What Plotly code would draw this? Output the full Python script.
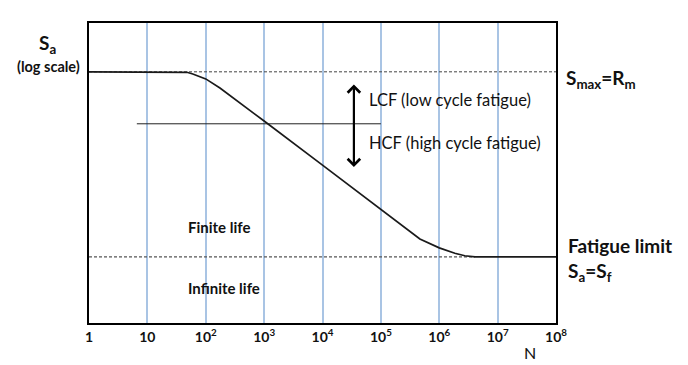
import plotly.graph_objects as go
import math

# ---- data ----
decade_ticks = [1, 10, 1e2, 1e3, 1e4, 1e5, 1e6, 1e7, 1e8]
tick_labels = ["1", "10", "10<sup>2</sup>", "10<sup>3</sup>", "10<sup>4</sup>",
               "10<sup>5</sup>", "10<sup>6</sup>", "10<sup>7</sup>", "10<sup>8</sup>"]

# S-N curve (N cycles, Sa amplitude, log-log)
curve_N = [1, 36, 47.7, 60, 100, 175, 316, 1e3, 1e4, 1e5, 4.66e5, 1e6, 1.85e6, 2.74e6, 4.1e6, 1e8]
curve_S = [1000, 1000, 997, 986, 955, 900, 838, 726, 545, 409, 337, 318, 307, 302, 300, 300]

S_max = 1000   # Rm
S_f = 300      # fatigue limit
dash_top_N = [1, 1e8]
dash_bot_N = [1, 4.1e6]
divider_N = [6.6, 1e5]
divider_S = 713
arrow_N = 3.45e4
arrow_S = [930, 538]

y_range = [2.290, 3.138]

FONT = "Lato"

fig = go.Figure()

fig.add_trace(go.Scatter(x=dash_top_N, y=[S_max, S_max], mode="lines",
                         line=dict(color="#444444", width=1, dash="3px,2px"),
                         hoverinfo="skip", showlegend=False))
fig.add_trace(go.Scatter(x=dash_bot_N, y=[S_f, S_f], mode="lines",
                         line=dict(color="#555555", width=1.2, dash="3px,2px"),
                         hoverinfo="skip", showlegend=False))
fig.add_trace(go.Scatter(x=divider_N, y=[divider_S, divider_S], mode="lines",
                         line=dict(color="#222222", width=1),
                         hoverinfo="skip", showlegend=False))
fig.add_trace(go.Scatter(x=curve_N, y=curve_S, mode="lines",
                         line=dict(color="#1a1a1a", width=1.7),
                         hoverinfo="skip", showlegend=False))

# double-headed arrow
fig.add_annotation(x=math.log10(arrow_N), y=math.log10(arrow_S[1]),
                   ax=math.log10(arrow_N), ay=math.log10(arrow_S[0]),
                   xref="x", yref="y", axref="x", ayref="y",
                   text="", showarrow=True, arrowhead=4, startarrowhead=4,
                   arrowside="end+start", arrowwidth=2.2, arrowsize=1.1,
                   startarrowsize=1.1, arrowcolor="#000000")

L, R, T, B = 89, 556, 23, 323
def px(X):
    return (X - L) / (R - L)
def py(Y):
    return (B - Y) / (B - T)

def txt(text, X, Y, size, bold=True, xanchor="left"):
    fig.add_annotation(x=px(X), y=py(Y), xref="paper", yref="paper",
                       text=("<b>%s</b>" % text) if bold else text,
                       showarrow=False, xanchor=xanchor, yanchor="middle",
                       font=dict(family=FONT, size=size, color="#111111"))

txt("S<sub>a</sub>", 47, 44, 19, xanchor="center")
txt("(log scale)", 48, 66, 14.5, xanchor="center")
txt("S<sub>max</sub>=R<sub>m</sub>", 564, 79, 19)
txt("Fatigue limit", 566, 245, 19)
txt("S<sub>a</sub>=S<sub>f</sub>", 566, 272, 19)
txt("LCF (low cycle fatigue)", 367, 100, 16.5, bold=False)
txt("HCF (high cycle fatigue)", 367, 143, 16.5, bold=False)
txt("Finite life", 186, 227, 15)
txt("Infinite life", 186, 288, 15)
txt("N", 530, 352, 16, bold=False, xanchor="center")

fig.update_xaxes(type="log", range=[0, 8], tickvals=decade_ticks,
                 ticktext=["<b>%s</b>" % t for t in tick_labels],
                 showgrid=True, gridcolor="#a9c4e4", gridwidth=1.5,
                 showline=True, linecolor="#000000", linewidth=2, mirror=True,
                 ticks="", zeroline=False,
                 tickfont=dict(family=FONT, size=14, color="#111111"))
fig.update_yaxes(type="log", range=y_range, showgrid=False, showticklabels=False,
                 showline=True, linecolor="#000000", linewidth=2, mirror=True,
                 ticks="", zeroline=False)

fig.update_layout(width=688, height=365, margin=dict(l=L, r=688 - R, t=T, b=365 - B),
                  paper_bgcolor="white", plot_bgcolor="white", showlegend=False)

fig.write_html("out.html", config={"displayModeBar": False},
               post_script="document.body.style.margin='0';")
